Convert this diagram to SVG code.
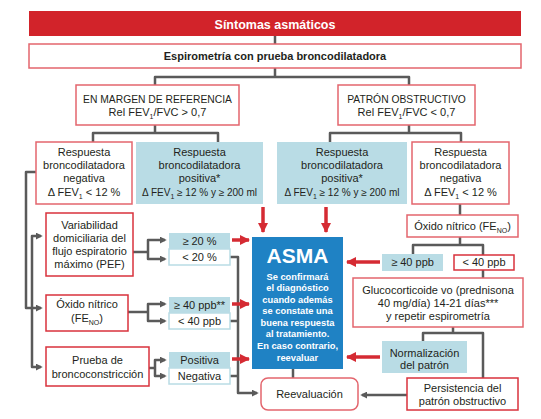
<svg xmlns="http://www.w3.org/2000/svg" width="541" height="419" viewBox="0 0 541 419">
<defs>
<style>
text{font-family:"Liberation Sans",Arial,sans-serif;font-size:11px;fill:#231f20;text-anchor:middle}
.b{font-weight:bold}
.w{fill:#fff}
.rb{fill:#fff;stroke:#e3656d;stroke-width:1.5}
.rs{fill:#fff;stroke:#d9323c;stroke-width:1.5}
.bl{fill:#b9dce5}
.bw{fill:#fff;stroke:#b9dce5;stroke-width:1.5}
.c{fill:none;stroke:#5a5a5a;stroke-width:2.5;stroke-linejoin:round}
.ra{fill:none;stroke:#d52b33;stroke-width:3.5}
.sub{font-size:7px}
.sm{font-size:10px}
.at{font-weight:bold;fill:#fff;font-size:9.3px}
</style>
<marker id="ga" viewBox="0 0 8 8" refX="6" refY="4" markerWidth="7" markerHeight="7" markerUnits="userSpaceOnUse" orient="auto-start-reverse"><path d="M0,0 L8,4 L0,8 z" fill="#5a5a5a"/></marker>
<marker id="ra" viewBox="0 0 10 10" refX="9" refY="5" markerWidth="10" markerHeight="10" markerUnits="userSpaceOnUse" orient="auto"><path d="M0,0 L10,5 L0,10 z" fill="#d52b33"/></marker>
</defs>

<g id="connectors">
<path class="c" d="M275,36 V44"/>
<path class="c" d="M275,68 V77 M155,85 V77 H409 V85"/>
<path class="c" d="M155,125 V133 M93,142 V133 H218 V142"/>
<path class="c" d="M409,125 V133 M330,142 V133 H461 V142"/>
<path class="c" d="M36,172 H26 V308 H41" marker-end="url(#ga)"/>
<path class="c" d="M41,236 H32 V367 H41" marker-start="url(#ga)" marker-end="url(#ga)"/>
<path class="c" d="M133,252 H148"/>
<path class="c" d="M165,240 H148 V259 H165" marker-start="url(#ga)" marker-end="url(#ga)"/>
<path class="c" d="M128,312 H148"/>
<path class="c" d="M165,304 H148 V321 H165" marker-start="url(#ga)" marker-end="url(#ga)"/>
<path class="c" d="M149,368 H155"/>
<path class="c" d="M165,360 H155 V376 H165" marker-start="url(#ga)" marker-end="url(#ga)"/>
<path class="c" d="M230,257 H238 V393 H257" marker-end="url(#ga)"/>
<path class="c" d="M230,321 H238 M230,376 H238"/>
<path class="c" d="M293,369 V378"/>
<path class="c" d="M460,204 V215"/>
<path class="c" d="M460,237 V245 M413,254 V245 H483 V255"/>
<path class="c" d="M483,270 V278"/>
<path class="c" d="M453,327 V333 M423,341 V333 H483 V378"/>
<path class="c" d="M407,395 H362" marker-end="url(#ga)"/>
<path class="ra" d="M263,207 V232" marker-end="url(#ra)"/>
<path class="ra" d="M326,207 V232" marker-end="url(#ra)"/>
<path class="ra" d="M232,240 H249" marker-end="url(#ra)"/>
<path class="ra" d="M232,304 H249" marker-end="url(#ra)"/>
<path class="ra" d="M232,359 H249" marker-end="url(#ra)"/>
<path class="ra" d="M380,262 H347" marker-end="url(#ra)"/>
<path class="ra" d="M380,357 H347" marker-end="url(#ra)"/>
</g>

<g id="sintomas">
<rect x="29" y="11" width="492" height="25" fill="#d2232a"/>
<text x="275" y="28.5" class="b w" style="font-size:12.5px">Síntomas asmáticos</text>
</g>
<g id="espirometria">
<rect x="29" y="44" width="492" height="24" class="rb"/>
<text x="275" y="60" class="b">Espirometría con prueba broncodilatadora</text>
</g>
<g id="margen">
<rect x="76" y="85" width="163" height="40" class="rb"/>
<text x="157.5" y="103" style="font-size:10.3px">EN MARGEN DE REFERENCIA</text>
<text x="157.5" y="116">Rel FEV<tspan class="sub" dy="3">1</tspan><tspan dy="-3">/FVC &gt; 0,7</tspan></text>
</g>
<g id="obstructivo">
<rect x="338" y="85" width="137" height="40" class="rb"/>
<text x="406.5" y="103" style="font-size:10.3px">PATRÓN OBSTRUCTIVO</text>
<text x="406.5" y="116">Rel FEV<tspan class="sub" dy="3">1</tspan><tspan dy="-3">/FVC &lt; 0,7</tspan></text>
</g>
<g id="neg-left">
<rect x="36" y="142" width="96" height="62" class="rb"/>
<text x="84" y="156">Respuesta</text>
<text x="84" y="169">broncodilatadora</text>
<text x="84" y="182">negativa</text>
<text x="84" y="196">Δ FEV<tspan class="sub" dy="3">1</tspan><tspan dy="-3"> &lt; 12 %</tspan></text>
</g>
<g id="pos-left">
<rect x="136" y="142" width="127" height="62" class="bl"/>
<text x="199.5" y="156">Respuesta</text>
<text x="199.5" y="169">broncodilatadora</text>
<text x="199.5" y="182">positiva*</text>
<text x="199.5" y="196" class="sm">Δ FEV<tspan class="sub" dy="3">1</tspan><tspan dy="-3"> ≥ 12 % y ≥ 200 ml</tspan></text>
</g>
<g id="pos-right">
<rect x="277" y="142" width="130" height="62" class="bl"/>
<text x="342" y="156">Respuesta</text>
<text x="342" y="169">broncodilatadora</text>
<text x="342" y="182">positiva*</text>
<text x="342" y="196" class="sm">Δ FEV<tspan class="sub" dy="3">1</tspan><tspan dy="-3"> ≥ 12 % y ≥ 200 ml</tspan></text>
</g>
<g id="neg-right">
<rect x="412" y="142" width="97" height="62" class="rb"/>
<text x="460.5" y="156">Respuesta</text>
<text x="460.5" y="169">broncodilatadora</text>
<text x="460.5" y="182">negativa</text>
<text x="460.5" y="196">Δ FEV<tspan class="sub" dy="3">1</tspan><tspan dy="-3"> &lt; 12 %</tspan></text>
</g>
<g id="variabilidad">
<rect x="46" y="213" width="87" height="63" class="rs"/>
<text x="89.5" y="229">Variabilidad</text>
<text x="89.5" y="242">domiciliaria del</text>
<text x="89.5" y="255">flujo espiratorio</text>
<text x="89.5" y="268">máximo (PEF)</text>
</g>
<g id="pef-high">
<rect x="169" y="233" width="61" height="16" class="bl"/>
<text x="199.5" y="245">≥ 20 %</text>
</g>
<g id="pef-low">
<rect x="169" y="249" width="61" height="16" class="bw"/>
<text x="199.5" y="261">&lt; 20 %</text>
</g>
<g id="oxido-left">
<rect x="46" y="295" width="82" height="36" class="rs"/>
<text x="87" y="308">Óxido nítrico</text>
<text x="87" y="322">(FE<tspan class="sub" dy="3">NO</tspan><tspan dy="-3">)</tspan></text>
</g>
<g id="fe-high-left">
<rect x="169" y="297" width="61" height="16" class="bl"/>
<text x="199.5" y="309">≥ 40 ppb**</text>
</g>
<g id="fe-low-left">
<rect x="169" y="313" width="61" height="16" class="bw"/>
<text x="199.5" y="325">&lt; 40 ppb</text>
</g>
<g id="prueba">
<rect x="46" y="347" width="103" height="39" class="rs"/>
<text x="97.5" y="364">Prueba de</text>
<text x="97.5" y="378">broncoconstricción</text>
</g>
<g id="positiva">
<rect x="169" y="352" width="61" height="16" class="bl"/>
<text x="199.5" y="364">Positiva</text>
</g>
<g id="negativa">
<rect x="169" y="368" width="61" height="16" class="bw"/>
<text x="199.5" y="380">Negativa</text>
</g>
<g id="asma">
<rect x="252" y="237" width="91" height="132" fill="#1f82c4"/>
<text x="297.5" y="263" class="b w" style="font-size:21px">ASMA</text>
<text x="297.5" y="279.5" class="at">Se confirmará</text>
<text x="297.5" y="291" class="at">el diagnóstico</text>
<text x="297.5" y="302.6" class="at">cuando además</text>
<text x="297.5" y="314.2" class="at">se constate una</text>
<text x="297.5" y="325.8" class="at">buena respuesta</text>
<text x="297.5" y="337.4" class="at">al tratamiento.</text>
<text x="297.5" y="349" class="at">En caso contrario,</text>
<text x="297.5" y="360.5" class="at">reevaluar</text>
</g>
<g id="reevaluacion">
<rect x="261" y="378" width="97" height="32" rx="7" class="rb"/>
<text x="309.5" y="398">Reevaluación</text>
</g>
<g id="oxido-right">
<rect x="407" y="215" width="111" height="22" class="rb"/>
<text x="462.5" y="230">Óxido nítrico (FE<tspan class="sub" dy="3">NO</tspan><tspan dy="-3">)</tspan></text>
</g>
<g id="fe-high-right">
<rect x="382" y="254" width="61" height="17" class="bl"/>
<text x="412.5" y="266">≥ 40 ppb</text>
</g>
<g id="fe-low-right">
<rect x="454" y="255" width="60" height="15" class="rs"/>
<text x="484" y="266">&lt; 40 ppb</text>
</g>
<g id="glucocorticoide">
<rect x="353" y="278" width="170" height="49" class="rb"/>
<text x="438" y="294">Glucocorticoide vo (prednisona</text>
<text x="438" y="307">40 mg/día) 14-21 días***</text>
<text x="438" y="320">y repetir espirometría</text>
</g>
<g id="normalizacion">
<rect x="382" y="341" width="85" height="32" class="bl"/>
<text x="424.5" y="357">Normalización</text>
<text x="424.5" y="369">del patrón</text>
</g>
<g id="persistencia">
<rect x="407" y="378" width="111" height="32" class="rs"/>
<text x="462.5" y="392">Persistencia del</text>
<text x="462.5" y="405">patrón obstructivo</text>
</g>
</svg>
